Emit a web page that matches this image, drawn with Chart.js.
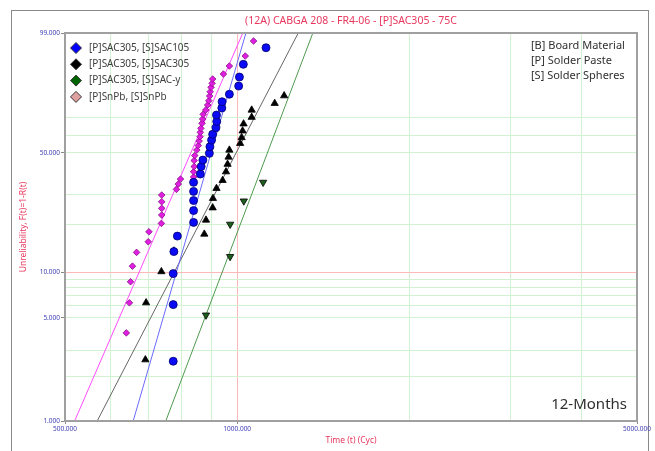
<!DOCTYPE html>
<html>
<head>
<meta charset="utf-8">
<script src="https://cdn.jsdelivr.net/npm/chart.js@4.4.0/dist/chart.umd.min.js"></script>
<style>
    body { margin: 0; background: #fff; }
    #wrap { position: relative; width: 655px; height: 451px; overflow: hidden; }
    #frame { position: absolute; left: 11px; top: 10px; width: 636px; height: 460px; border: 1px solid #8a8a8a; }
    #plot { position: absolute; left: 0; top: 0; }
</style>
</head>
<body>
<div id="wrap">
    <div id="frame"></div>
    <canvas id="plot" width="655" height="451"></canvas>
</div>
<script>
// failure times (cycles) and unreliability (%)
const seriesNames = ['[P]SAC305, [S]SAC105', '[P]SAC305, [S]SAC305', '[P]SAC305, [S]SAC-y', '[P]SnPb, [S]SnPb'];

const sac105Time = [773, 773, 773, 775, 786, 839, 839, 839, 839, 839, 862, 865, 871, 894, 896, 902, 906, 918, 921, 920, 940, 941, 969, 1006, 1009, 1025, 1123];
const sac105Unrel = [2.55, 6.12, 9.79, 13.58, 17.0, 20.66, 24.33, 27.86, 31.45, 35.3, 39.13, 42.81, 46.16, 49.75, 53.42, 57.23, 60.57, 64.35, 67.94, 71.65, 75.54, 78.89, 82.64, 86.37, 89.95, 93.97, 97.4];

const sac305Time = [691, 693, 737, 775, 876, 882, 906, 907, 920, 943, 956, 962, 966, 969, 1012, 1018, 1022, 1026, 1060, 1060, 1163, 1208];
const sac305Unrel = [2.61, 6.3, 10.09, 13.7, 17.5, 21.34, 25.28, 28.69, 32.7, 36.19, 40.23, 43.98, 47.76, 51.58, 55.34, 58.67, 62.55, 66.61, 70.4, 74.44, 78.05, 81.92];

const sacyTime = [882, 972, 972, 1027, 1110];
const sacyUnrel = [5.21, 12.61, 20.11, 27.68, 35.3];

const snpbTime = [640, 648, 651, 656, 667, 699, 701, 737, 738, 738, 738, 738, 783, 789, 796, 839, 839, 841, 841, 843, 850, 855, 858, 861, 862, 864, 868, 870, 872, 881, 888, 892, 895, 897, 900, 904, 906, 946, 969, 1033, 1068];
const snpbUnrel = [3.96, 6.29, 8.66, 10.95, 13.42, 15.66, 18.08, 20.37, 22.88, 25.08, 27.42, 29.97, 32.28, 34.54, 36.79, 37.71, 40.23, 42.81, 45.9, 48.56, 51.58, 54.09, 56.65, 59.13, 61.68, 64.0, 66.9, 69.38, 72.05, 74.44, 77.16, 79.4, 81.77, 83.83, 85.81, 87.51, 89.21, 91.01, 93.5, 95.93, 98.27];

// weibull fit lines (beta, eta) per series
const fitBeta = [13.5, 7.57, 10.35, 9.05];
const fitEta = [925, 1045, 1170, 864];

// axis ticks
const xGridTime = [500, 600, 700, 800, 900, 1000, 2000, 3000, 4000, 5000];
const xLabelTime = [500, 1000, 5000];
const yGridPct = [1, 2, 3, 5, 6, 7, 8, 9, 10, 20, 30, 50, 60, 70, 99];
const yLabelPct = [1, 5, 10, 50, 99];
const notes = ['[B] Board Material', '[P] Solder Paste', '[S] Solder Spheres'];

const pointColors = ['#0a0af5', '#000000', '#1d5f1d', '#e01ee0'];
const pointBorders = ['#00006e', '#000000', '#000000', '#8a108a'];
const legendColors = ['#0000ff', '#000000', '#006400', '#e0a0a0'];
const lineColors = ['#6a6aff', '#666666', '#4f9a4f', '#ff4cff'];

function weib(pct) {
    return Math.log(-Math.log(1 - pct / 100));
}

function toPoints(times, unrel) {
    return times.map(function (t, i) {
        return { x: t, y: weib(unrel[i]) };
    });
}

function fitLine(i) {
    return [500, 5000].map(function (t) {
        return { x: t, y: fitBeta[i] * Math.log(t / fitEta[i]) };
    });
}

const pointSets = [
    toPoints(sac105Time, sac105Unrel),
    toPoints(sac305Time, sac305Unrel),
    toPoints(sacyTime, sacyUnrel),
    toPoints(snpbTime, snpbUnrel)
];
const pointStyles = ['circle', 'triangle', 'triangle', 'rectRot'];
const pointRotations = [0, 0, 180, 0];
const pointSizes = [4, 4.2, 4.2, 3.3];

const datasets = [];
pointSets.forEach(function (pts, i) {
    datasets.push({
        label: seriesNames[i],
        data: pts,
        pointStyle: pointStyles[i],
        rotation: pointRotations[i],
        pointRadius: pointSizes[i],
        backgroundColor: pointColors[i],
        borderColor: pointBorders[i],
        borderWidth: 0.8,
        showLine: false,
        order: 0
    });
});
pointSets.forEach(function (pts, i) {
    datasets.push({
        type: 'line',
        label: seriesNames[i] + ' fit',
        data: fitLine(i),
        borderColor: lineColors[i],
        borderWidth: 1,
        pointRadius: 0,
        tension: 0,
        order: 1
    });
});

const titleRed = '#e8385e';
const tickBlue = '#3c3cb4';
const gridGreen = '#d2f3d2';
const gridRed = '#ffb8b8';

const insideText = {
    id: 'insideText',
    afterDraw: function (chart) {
        const ctx = chart.ctx;
        const area = chart.chartArea;
        ctx.save();

        // plot frame
        ctx.strokeStyle = '#a0a0a0';
        ctx.lineWidth = 2;
        ctx.strokeRect(area.left, area.top, area.right - area.left, area.bottom - area.top);

        // title
        ctx.fillStyle = titleRed;
        ctx.font = '10.5px "Noto Sans"';
        ctx.textAlign = 'center';
        ctx.textBaseline = 'middle';
        ctx.fillText('(12A) CABGA 208 - FR4-06 - [P]SAC305 - 75C', (area.left + area.right) / 2, 21);

        // legend
        ctx.textAlign = 'left';
        ctx.font = '10px "Noto Sans"';
        seriesNames.forEach(function (name, i) {
            const y = 48 + i * 16.3;
            const x = 76;
            ctx.beginPath();
            ctx.moveTo(x, y - 5.5);
            ctx.lineTo(x + 5.5, y);
            ctx.lineTo(x, y + 5.5);
            ctx.lineTo(x - 5.5, y);
            ctx.closePath();
            ctx.fillStyle = legendColors[i];
            ctx.fill();
            ctx.strokeStyle = '#333';
            ctx.lineWidth = 1;
            ctx.stroke();
            ctx.fillStyle = '#404040';
            ctx.fillText(name, 89, y);
        });

        // notes box
        ctx.fillStyle = '#303030';
        ctx.font = '11px "Noto Sans"';
        notes.forEach(function (txt, i) {
            ctx.fillText(txt, 531, 46 + i * 15);
        });

        ctx.font = '15px "Noto Sans"';
        ctx.textAlign = 'right';
        ctx.fillText('12-Months', 627, 405);
        ctx.restore();
    }
};

new Chart(document.getElementById('plot'), {
    type: 'scatter',
    data: { datasets: datasets },
    options: {
        responsive: false,
        animation: false,
        events: [],
        layout: {
            padding: { left: 0, right: 18, top: 33, bottom: 0 }
        },
        plugins: {
            legend: { display: false },
            tooltip: { enabled: false }
        },
        scales: {
            x: {
                type: 'logarithmic',
                min: 500,
                max: 5000,
                afterBuildTicks: function (scale) {
                    scale.ticks = xGridTime.map(function (v) { return { value: v }; });
                },
                afterFit: function (scale) {
                    scale.height = 30;
                },
                border: { display: false },
                grid: {
                    color: function (c) {
                        if (!c.tick) return gridGreen;
                        return c.tick.value === 1000 ? gridRed : gridGreen;
                    },
                    tickColor: function (c) {
                        return c.tick && xLabelTime.includes(c.tick.value) ? '#888' : 'rgba(0,0,0,0)';
                    },
                    tickLength: 3
                },
                ticks: {
                    autoSkip: false,
                    maxRotation: 0,
                    minRotation: 0,
                    padding: 1,
                    color: tickBlue,
                    font: { size: 6.5, family: '"Noto Sans"' },
                    callback: function (value) {
                        return xLabelTime.includes(value) ? value.toFixed(3) : '';
                    }
                },
                title: {
                    display: true,
                    text: 'Time (t) (Cyc)',
                    color: titleRed,
                    font: { size: 8.5, family: '"Noto Sans"' },
                    padding: { top: 0, bottom: 5 }
                }
            },
            y: {
                type: 'linear',
                min: weib(1),
                max: weib(99),
                afterBuildTicks: function (scale) {
                    scale.ticks = yGridPct.map(function (p) { return { value: weib(p), pct: p }; });
                },
                afterFit: function (scale) {
                    scale.width = 65;
                },
                border: { display: false },
                grid: {
                    color: function (c) {
                        if (!c.tick) return gridGreen;
                        return c.tick.pct === 10 ? gridRed : gridGreen;
                    },
                    tickColor: function (c) {
                        return c.tick && yLabelPct.includes(c.tick.pct) ? '#888' : 'rgba(0,0,0,0)';
                    },
                    tickLength: 4
                },
                ticks: {
                    autoSkip: false,
                    padding: 1,
                    color: tickBlue,
                    font: { size: 6.5, family: '"Noto Sans"' },
                    callback: function (value, index, ticks) {
                        const p = ticks[index].pct;
                        return yLabelPct.includes(p) ? p.toFixed(3) : '';
                    }
                },
                title: {
                    display: true,
                    text: 'Unreliability, F(t)=1-R(t)',
                    color: titleRed,
                    font: { size: 8.5, family: '"Noto Sans"' },
                    padding: { top: 18, bottom: 0 }
                }
            }
        }
    },
    plugins: [insideText]
});
</script>
</body>
</html>
